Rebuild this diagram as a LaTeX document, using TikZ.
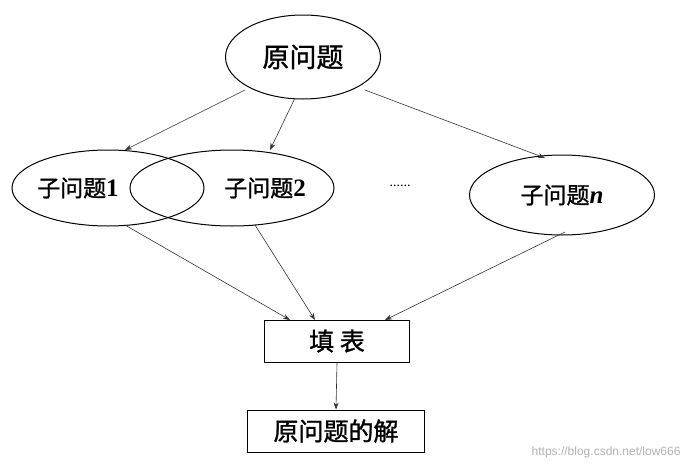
\documentclass[tikz,border=0pt]{standalone}
\usepackage{fontspec}
\setmainfont{Liberation Serif}
\newfontfamily\cjk[FakeBold=1.2]{Noto Sans CJK SC}
\usetikzlibrary{shapes.geometric,arrows.meta}
\begin{document}
\begin{tikzpicture}[x=1pt,y=-1pt,
  ell/.style={draw,line width=1pt,ellipse,inner sep=0pt},
  box/.style={draw,line width=1pt,rectangle,inner sep=0pt},
  arr/.style={-{Stealth[length=7pt,width=5pt]},line width=0.6pt,black!80}]
\useasboundingbox[fill=white] (0,0) rectangle (688,466);
\node[ell,minimum width=155,minimum height=84] (top) at (303,57) {\cjk\fontsize{27}{30}\selectfont 原问题};
\node[ell,minimum width=192,minimum height=76] (s1) at (108,188) {};
\node[ell,minimum width=204,minimum height=76] (s2) at (232,188) {};
\node at (78,188) {\cjk\fontsize{23}{26}\selectfont 子问题\textbf{\fontspec{Liberation Serif}\fontsize{25}{26}\selectfont 1}};
\node at (265,188) {\cjk\fontsize{23}{26}\selectfont 子问题\textbf{\fontspec{Liberation Serif}\fontsize{25}{26}\selectfont 2}};
\node at (400,186) {\fontsize{14}{16}\selectfont ......};
\node[ell,minimum width=185,minimum height=80] (sn) at (562,195) {\cjk\fontsize{23}{26}\selectfont 子问题\textbf{\itshape\fontspec{Liberation Serif}\fontsize{25}{26}\selectfont n}};
\node[box,minimum width=145,minimum height=42] (fill) at (337,341) {\cjk\fontsize{25}{28}\selectfont 填\ 表};
\node[box,minimum width=177,minimum height=42] (res) at (336,431) {\cjk\fontsize{25}{28}\selectfont 原问题的解};
\coordinate (t1) at (245,90); \coordinate (t2) at (295,98); \coordinate (t3) at (365,90);
\draw[arr] (t1) -- (125,150);
\draw[arr] (t2) -- (270,150);
\draw[arr] (t3) -- (545,158);
\draw[arr] (125,225) -- (290,320);
\draw[arr] (255,225) -- (315,320);
\draw[arr] (565,232) -- (385,320);
\draw[arr] (fill.south) -- (res.north);
\node[text=black!30,anchor=east] at (684,452) {\fontspec{Liberation Sans}\fontsize{12}{14}\selectfont https://blog.csdn.net/low666};
\end{tikzpicture}
\end{document}
